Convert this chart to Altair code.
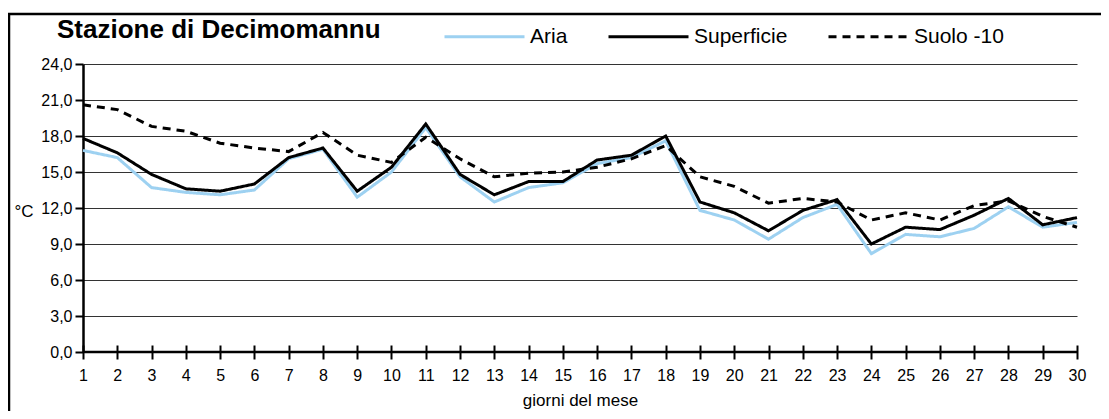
import altair as alt
import pandas as pd

days = list(range(1, 31))
aria = [16.8, 16.2, 13.7, 13.3, 13.1, 13.5, 16.1, 16.9, 12.9, 15.0,
        18.7, 14.6, 12.5, 13.7, 14.1, 15.7, 16.2, 17.6, 11.8, 11.0,
        9.4, 11.2, 12.3, 8.2, 9.8, 9.6, 10.3, 12.1, 10.4, 10.8]
superficie = [17.8, 16.6, 14.8, 13.6, 13.4, 14.0, 16.2, 17.0, 13.4, 15.4,
              19.0, 14.8, 13.1, 14.2, 14.2, 16.0, 16.4, 18.0, 12.5, 11.6,
              10.1, 11.8, 12.7, 9.0, 10.4, 10.2, 11.4, 12.8, 10.6, 11.2]
suolo = [20.6, 20.2, 18.8, 18.4, 17.4, 17.0, 16.7, 18.3, 16.4, 15.8,
         17.9, 16.1, 14.6, 14.9, 15.0, 15.4, 16.1, 17.2, 14.6, 13.8,
         12.4, 12.8, 12.5, 11.0, 11.6, 11.0, 12.2, 12.6, 11.3, 10.4]
series_names = ["Aria", "Superficie", "Suolo -10"]
y_ticks = [0, 3, 6, 9, 12, 15, 18, 21, 24]
title_text = "Stazione di Decimomannu"
x_title = "giorni del mese"
y_title = "°C"

rows = []
for name, vals in zip(series_names, [aria, superficie, suolo]):
    for d, v in zip(days, vals):
        rows.append({"giorno": d, "temp": v, "serie": name})
df = pd.DataFrame(rows)

W, H = 994, 288
FONT = "Liberation Sans"

xscale = alt.Scale(domain=[1, 30], nice=False, zero=False)
yscale = alt.Scale(domain=[0, 24], nice=False)

lines = alt.Chart(df).mark_line(strokeJoin="miter").encode(
    x=alt.X("giorno:Q", scale=xscale,
            axis=alt.Axis(values=days, format="d", offset=-7, tickSize=14,
                          tickWidth=2, tickColor="black", domain=False,
                          labelPadding=8, labelFontSize=16, labelFont=FONT,
                          labelColor="black", labelFlush=False,
                          title=x_title, titleFont=FONT, titleFontSize=17,
                          titleFontWeight="normal", titleColor="black",
                          titleX=W / 2, titleY=60, titleBaseline="alphabetic",
                          grid=False)),
    y=alt.Y("temp:Q", scale=yscale,
            axis=alt.Axis(values=y_ticks,
                          labelExpr="replace(format(datum.value, '.1f'), '.', ',')",
                          tickSize=8, tickWidth=2, tickColor="black",
                          domain=True, domainColor="black", domainWidth=2.5,
                          labelPadding=3, labelFontSize=16, labelFont=FONT,
                          labelColor="black",
                          grid=True, gridColor="#333333", gridWidth=1.2,
                          title=y_title, titleAngle=0, titleX=-69, titleY=147,
                          titleAlign="left", titleBaseline="middle",
                          titleFont=FONT, titleFontSize=17,
                          titleFontWeight="normal", titleColor="black")),
    color=alt.Color("serie:N",
                    scale=alt.Scale(domain=series_names,
                                    range=["#9DD1F1", "black", "black"]),
                    legend=alt.Legend(title=None, orient="none", legendX=360,
                                      legendY=-69, direction="horizontal",
                                      symbolType="stroke", symbolSize=6400,
                                      symbolStrokeWidth=2, labelFontSize=21,
                                      labelFont=FONT, labelColor="black",
                                      labelOffset=4, columnPadding=34,
                                      padding=0)),
    strokeDash=alt.StrokeDash("serie:N",
                              scale=alt.Scale(domain=series_names,
                                              range=[[1, 0], [1, 0], [8, 6]]),
                              legend=alt.Legend(title=None)),
    strokeWidth=alt.StrokeWidth("serie:N",
                                scale=alt.Scale(domain=series_names,
                                                range=[3, 3, 2.5]),
                                legend=None),
    order=alt.Order("giorno:Q"),
)

one = alt.Data(values=[{"k": 1}])

xaxis_line = alt.Chart(one).mark_rule(color="black", strokeWidth=2.5).encode(
    x=alt.value(0), x2=alt.value(W), y=alt.value(H)
)

frame = alt.Chart(one).mark_rect(fill=None, stroke="black", strokeWidth=2.5).encode(
    x=alt.value(-74), x2=alt.value(W + 100), y=alt.value(-50), y2=alt.value(H + 200)
)

title = alt.Chart(one).mark_text(
    text=title_text, font=FONT, fontSize=26, fontWeight="bold",
    align="left", baseline="alphabetic", color="black"
).encode(x=alt.value(-26), y=alt.value(-26))

chart = alt.layer(lines, xaxis_line, frame, title).properties(
    width=W, height=H,
    autosize=alt.AutoSizeParams(type="none"),
    padding={"left": 75, "top": 56, "right": 24, "bottom": 59},
    background="white",
).configure_view(stroke=None)

chart.save("out.html", embed_options={"renderer": "svg", "actions": False})
